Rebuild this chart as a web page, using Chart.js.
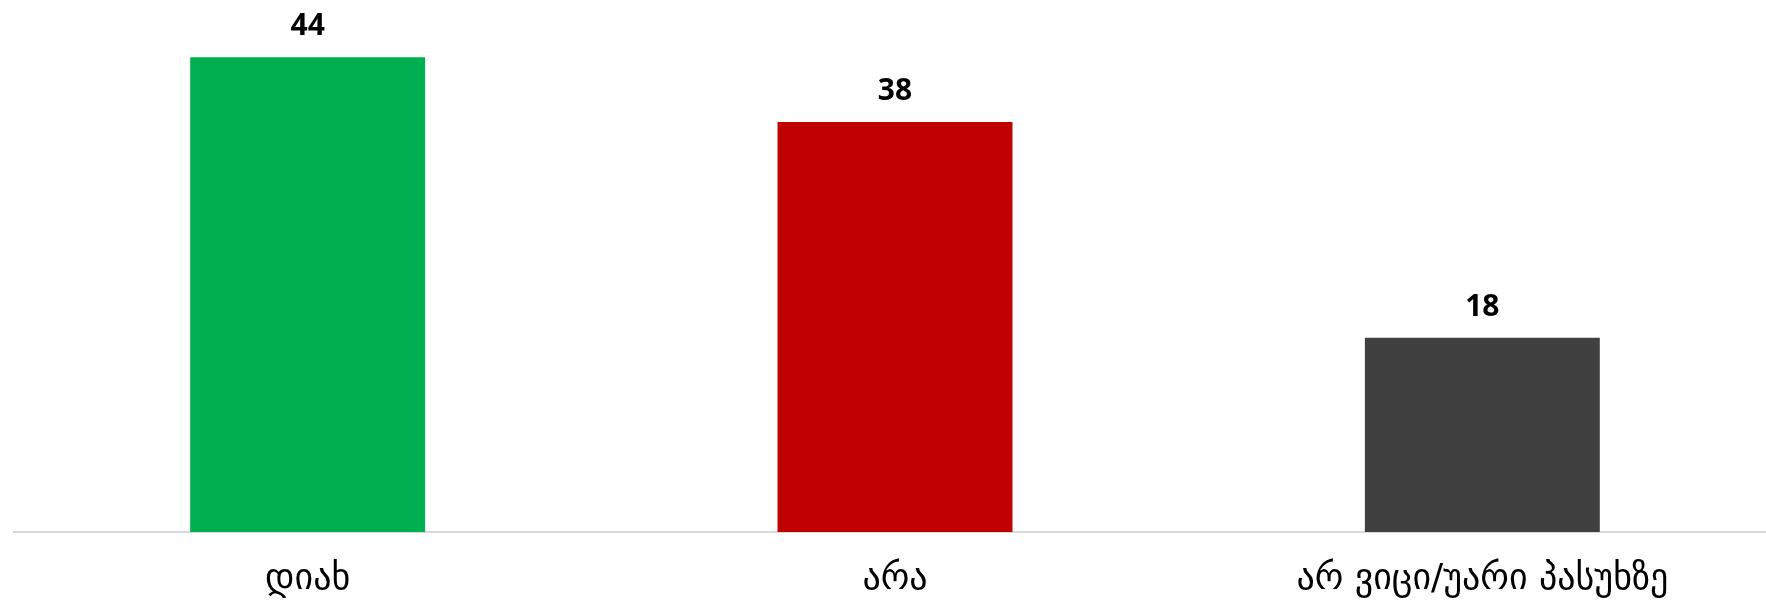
<!DOCTYPE html>
<html>
<head>
<meta charset="utf-8">
<script src="https://cdn.jsdelivr.net/npm/chart.js@4"></script>
<style>
  html, body { margin: 0; padding: 0; background: #fff; overflow: hidden; }
  #wrap { width: 1766px; height: 604px; overflow: hidden; }
</style>
</head>
<body>
<div id="wrap"><canvas id="chart" width="1776" height="604"></canvas></div>
<script>
const categories = ["დიახ", "არა", "არ ვიცი/უარი პასუხზე"];
const values = [44, 38, 18];
const barColors = ["#00b050", "#c00000", "#404040"];

// draw the numbers above each bar
const valueLabels = {
  id: "valueLabels",
  afterDatasetsDraw(chart) {
    const ctx = chart.ctx;
    const meta = chart.getDatasetMeta(0);
    ctx.save();
    ctx.font = "bold 30px 'Open Sans', sans-serif";
    ctx.fillStyle = "#000";
    ctx.textAlign = "center";
    ctx.textBaseline = "alphabetic";
    meta.data.forEach((bar, i) => {
      ctx.fillText(values[i], bar.x, bar.y - 22);
    });
    ctx.restore();
  }
};

const ctx = document.getElementById("chart").getContext("2d");
new Chart(ctx, {
  type: "bar",
  data: {
    labels: categories,
    datasets: [{
      data: values,
      backgroundColor: barColors,
      barPercentage: 0.4,
      categoryPercentage: 1
    }]
  },
  options: {
    responsive: false,
    animation: false,
    layout: { padding: { left: 14, right: 0, top: 14, bottom: 0 } },
    plugins: {
      legend: { display: false },
      tooltip: { enabled: false }
    },
    scales: {
      x: {
        grid: { display: false, drawTicks: false },
        border: { display: true, color: "#d9d9d9", width: 2 },
        ticks: {
          color: "#000",
          padding: 26,
          font: { family: "'DejaVu Sans', sans-serif", size: 36 }
        },
        afterFit(scale) {
          scale.height = 72;
        }
      },
      y: {
        display: false,
        min: 0,
        max: 48
      }
    }
  },
  plugins: [valueLabels]
});
</script>
</body>
</html>
